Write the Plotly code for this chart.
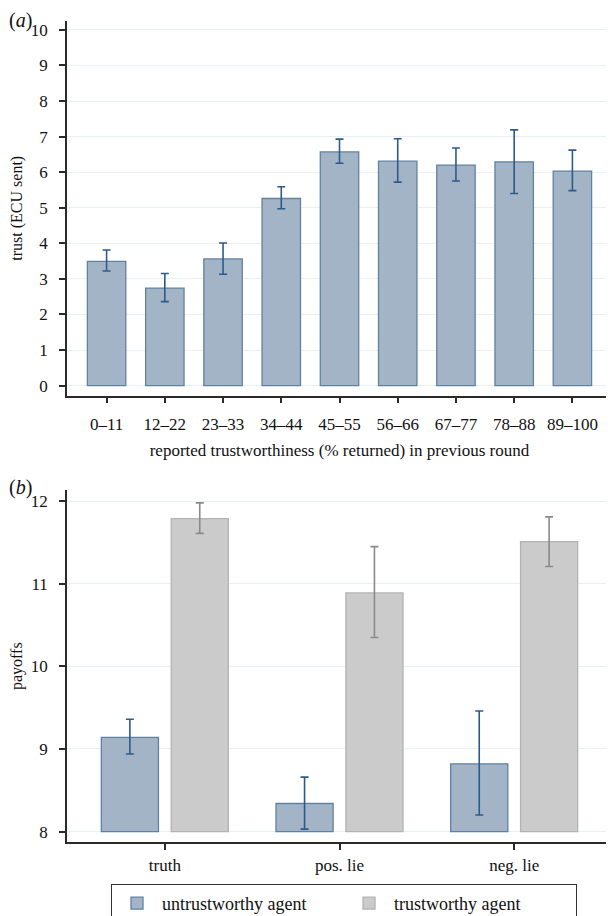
import plotly.graph_objects as go

# ---- data: panel (a) ----
cats_a = ["0–11", "12–22", "23–33", "34–44", "45–55", "56–66", "67–77", "78–88", "89–100"]
trust_mean = [3.49, 2.74, 3.56, 5.26, 6.57, 6.31, 6.20, 6.29, 6.03]
trust_hi = [3.81, 3.15, 4.01, 5.59, 6.93, 6.94, 6.68, 7.19, 6.62]
trust_lo = [3.22, 2.36, 3.13, 4.97, 6.25, 5.72, 5.75, 5.40, 5.48]

# ---- data: panel (b) ----
cats_b = ["truth", "pos. lie", "neg. lie"]
untrust_pay = [9.14, 8.34, 8.82]
untrust_hi = [9.36, 8.66, 9.46]
untrust_lo = [8.94, 8.03, 8.20]
trustw_pay = [11.79, 10.89, 11.51]
trustw_hi = [11.98, 11.45, 11.81]
trustw_lo = [11.61, 10.35, 11.21]
base_b = 8

FONT = "Liberation Serif, Times New Roman, serif"
BLUE_FILL = "#a3b4c6"
BLUE_LINE = "#5f82a3"
BLUE_ERR = "#2c5b8a"
GREY_FILL = "#cbcbcb"
GREY_LINE = "#b3b3b3"
GREY_ERR = "#8a8a8a"
GRID = "#e8f0f3"
AXIS = "#2a2a2a"

fig = go.Figure()

fig.add_trace(go.Bar(
    x=cats_a, y=trust_mean, width=0.66,
    marker=dict(color=BLUE_FILL, line=dict(color=BLUE_LINE, width=1.3)),
    error_y=dict(type="data", symmetric=False,
                 array=[h - m for h, m in zip(trust_hi, trust_mean)],
                 arrayminus=[m - l for m, l in zip(trust_mean, trust_lo)],
                 color=BLUE_ERR, thickness=1.6, width=4),
    xaxis="x", yaxis="y", showlegend=False,
))

fig.add_trace(go.Bar(
    x=cats_b, y=[v - base_b for v in untrust_pay], base=base_b,
    width=0.327, offset=-0.3635, name="untrustworthy agent",
    marker=dict(color=BLUE_FILL, line=dict(color=BLUE_LINE, width=1.3)),
    error_y=dict(type="data", symmetric=False,
                 array=[h - m for h, m in zip(untrust_hi, untrust_pay)],
                 arrayminus=[m - l for m, l in zip(untrust_pay, untrust_lo)],
                 color=BLUE_ERR, thickness=1.6, width=4),
    xaxis="x2", yaxis="y2",
))

fig.add_trace(go.Bar(
    x=cats_b, y=[v - base_b for v in trustw_pay], base=base_b,
    width=0.327, offset=0.0365, name="trustworthy agent",
    marker=dict(color=GREY_FILL, line=dict(color=GREY_LINE, width=1.3)),
    error_y=dict(type="data", symmetric=False,
                 array=[h - m for h, m in zip(trustw_hi, trustw_pay)],
                 arrayminus=[m - l for m, l in zip(trustw_pay, trustw_lo)],
                 color=GREY_ERR, thickness=1.6, width=4),
    xaxis="x2", yaxis="y2",
))

axis_common = dict(showline=True, linecolor=AXIS, linewidth=1.5,
                   ticks="outside", ticklen=6, tickcolor=AXIS, tickwidth=1.5,
                   tickfont=dict(family=FONT, size=17, color="#111"),
                   zeroline=False, automargin=False)

# page body has an 8px margin, so the figure is positioned to compensate
fig.update_layout(
    width=606, height=916,
    margin=dict(l=59, r=2, t=13, b=81),
    paper_bgcolor="white", plot_bgcolor="white",
    barmode="overlay",
    font=dict(family=FONT, color="#111"),
    xaxis=dict(domain=[0, 1], anchor="y", range=[-0.68, 8.68], showgrid=False,
               ticklabelstandoff=6,
               title=dict(text="reported trustworthiness (% returned) in previous round",
                          font=dict(family=FONT, size=17), standoff=11),
               **axis_common),
    yaxis=dict(domain=[0.5438, 1], anchor="x", range=[-0.28, 10.25], dtick=1, tick0=0,
               showgrid=True, gridcolor=GRID, gridwidth=1, ticklabelstandoff=8,
               title=dict(text="trust (ECU sent)", font=dict(family=FONT, size=16), standoff=14),
               **axis_common),
    xaxis2=dict(domain=[0, 1], anchor="y2", range=[-0.56, 2.56], showgrid=False,
                ticklabelstandoff=1, **axis_common),
    yaxis2=dict(domain=[0, 0.4282], anchor="x2", range=[7.874, 12.13], dtick=1, tick0=8,
                showgrid=True, gridcolor=GRID, gridwidth=1, ticklabelstandoff=8,
                title=dict(text="payoffs", font=dict(family=FONT, size=16), standoff=25),
                **axis_common),
    legend=dict(orientation="h", x=(336 - 59) / 545, xanchor="center", y=-0.0499, yanchor="top",
                bordercolor="#333", borderwidth=1, bgcolor="white",
                font=dict(family=FONT, size=18), entrywidth=177, entrywidthmode="pixels",
                itemwidth=40),
    annotations=[
        dict(text="(<i>a</i>)", xref="paper", yref="paper", x=-59 / 545, y=(835 - 12) / 822,
             xanchor="left", yanchor="middle", showarrow=False, borderpad=0,
             font=dict(family=FONT, size=20, color="#111")),
        dict(text="(<i>b</i>)", xref="paper", yref="paper", x=-59 / 545, y=(835 - 480) / 822,
             xanchor="left", yanchor="middle", showarrow=False, borderpad=0,
             font=dict(family=FONT, size=20, color="#111")),
    ],
)

fig.write_html("out.html")
